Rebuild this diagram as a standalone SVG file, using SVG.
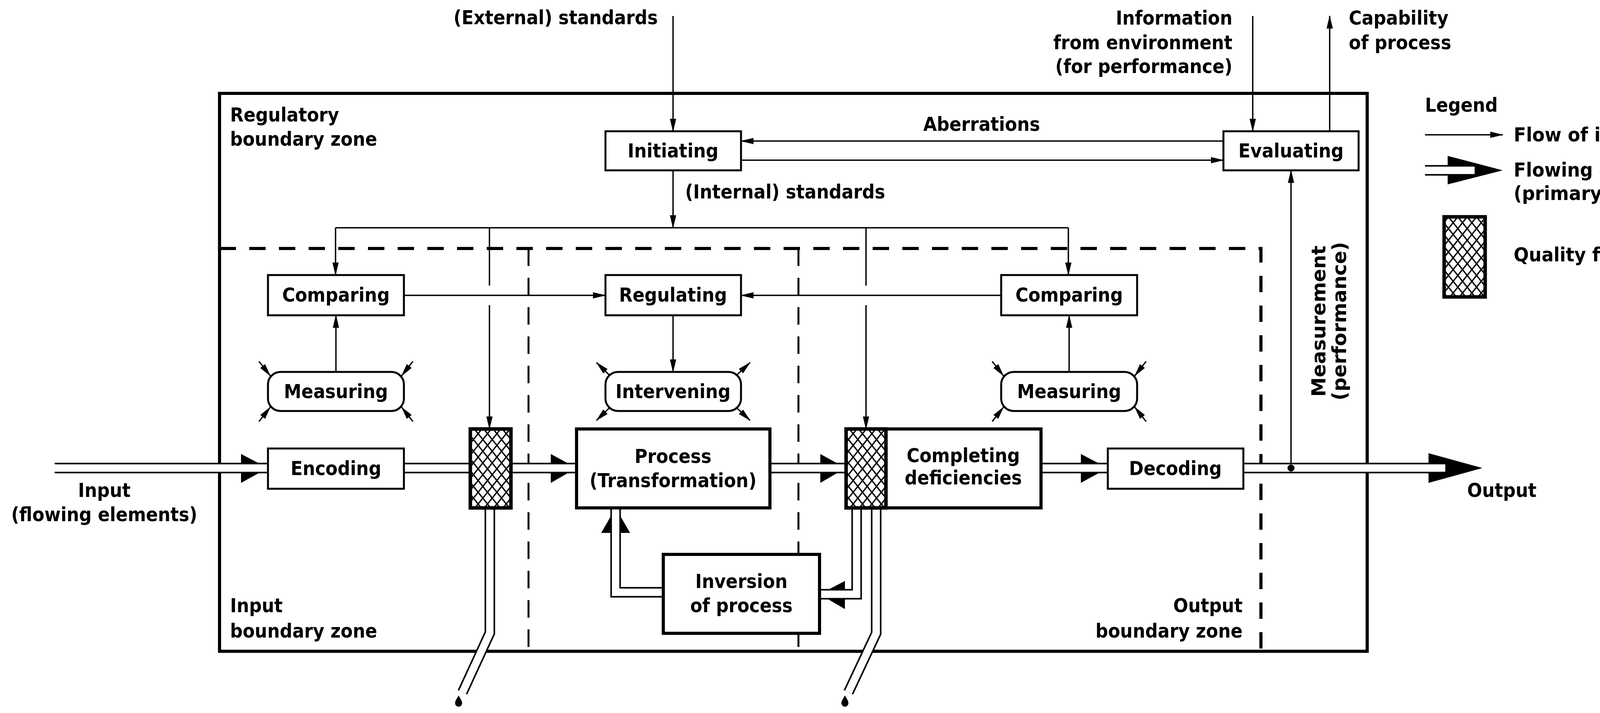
<svg xmlns="http://www.w3.org/2000/svg" width="4408" height="1825" viewBox="0 0 4408 1825">
<style>
text{font-family:"DejaVu Sans Condensed","DejaVu Sans",sans-serif;font-stretch:condensed;font-weight:bold;font-size:50px;fill:#000}
.c{text-anchor:middle}.r{text-anchor:end}
.wide{font-family:"DejaVu Sans",sans-serif;font-stretch:normal}
.box{fill:#fff;stroke:#000;stroke-width:5}
.tbox{fill:#fff;stroke:#000;stroke-width:8}
.info{fill:none;stroke:#000;stroke-width:3.5}
.ia{fill:none;stroke:#000;stroke-width:3.5;marker-end:url(#ah)}
.fo{fill:none;stroke:#000;stroke-width:27}
.fi{fill:none;stroke:#fff;stroke-width:19}
.filter{fill:url(#hatch);stroke:#000;stroke-width:9}
</style>
<defs>
<marker id="ah" markerWidth="34" markerHeight="16" refX="32" refY="8" orient="auto" markerUnits="userSpaceOnUse">
<path d="M0,0 L34,8 L0,16 Z" fill="#000"/>
</marker>
<pattern id="hatch" width="24" height="30" patternUnits="userSpaceOnUse">
<rect width="24" height="30" fill="#fff"/>
<path d="M0,0 L24,30 M24,0 L0,30 M-12,15 L0,30 M12,-15 L36,15 M36,15 L24,30 M12,-15 L-12,15" stroke="#000" stroke-width="3.5"/>
</pattern>
<path id="drop" d="M0,-16 C4,-8 9,-3 9,4 A9,9 0 0 1 -9,4 C-9,-3 -4,-8 0,-16Z" fill="#000"/>
</defs>
<rect width="4408" height="1825" fill="#fff"/>

<g id="frame">
<rect x="562" y="239" width="2938" height="1428" fill="none" stroke="#000" stroke-width="8"/>
<path d="M562,636 H3228 V1667" fill="none" stroke="#000" stroke-width="8" stroke-dasharray="42 34"/>
<path d="M1353,636 V1667 M2044,636 V1667" fill="none" stroke="#000" stroke-width="5" stroke-dasharray="45 30"/>
<text x="589" y="311">Regulatory</text>
<text x="589" y="373">boundary zone</text>
<text x="589" y="1567">Input</text>
<text x="589" y="1632">boundary zone</text>
<text x="3181" y="1567" class="r">Output</text>
<text x="3181" y="1632" class="r">boundary zone</text>
</g>

<g id="connectors">
<path class="ia" d="M1723,41 V336"/>
<path class="ia" d="M3207,41 V336"/>
<path class="ia" d="M3404,336 V41"/>
<path class="ia" d="M3132,361 H1897"/>
<path class="ia" d="M1897,410 H3132"/>
<path class="ia" d="M1723,436 V583"/>
<path class="info" d="M859,583 H2735"/>
<path class="ia" d="M859,583 V704"/>
<path class="info" d="M1253,583 V731"/>
<path class="ia" d="M1253,781 V1098"/>
<path class="info" d="M2217,583 V731"/>
<path class="ia" d="M2217,781 V1098"/>
<path class="ia" d="M2735,583 V704"/>
<path class="ia" d="M1034,756 H1550"/>
<path class="ia" d="M2563,756 H1897"/>
<path class="ia" d="M860,952 V807"/>
<path class="ia" d="M2737,952 V807"/>
<path class="ia" d="M1723,807 V952"/>
<path class="ia" d="M3305,1198 V436"/>
<path class="ia" d="M663,925 L692,962"/>
<path class="ia" d="M1057,925 L1028,962"/>
<path class="ia" d="M663,1079 L692,1042"/>
<path class="ia" d="M1057,1079 L1028,1042"/>
<path class="ia" d="M2540,925 L2569,962"/>
<path class="ia" d="M2934,925 L2905,962"/>
<path class="ia" d="M2540,1079 L2569,1042"/>
<path class="ia" d="M2934,1079 L2905,1042"/>
<path class="ia" d="M1560,960 L1527,928"/>
<path class="ia" d="M1886,960 L1920,928"/>
<path class="ia" d="M1560,1044 L1527,1076"/>
<path class="ia" d="M1886,1044 L1920,1076"/>

<g id="flows">
<path class="fo" d="M140,1198 H686 M1034,1198 H1204 M1308,1198 H1476 M1971,1198 H2165 M2665,1198 H2836 M3183,1198 H3720"/>
<path class="fo" d="M1254,1300 V1620 L1184,1772"/>
<path class="fo" d="M2243,1300 V1621 L2172,1772"/>
<path class="fo" d="M2193,1300 V1521 H2098"/>
<path class="fo" d="M1698,1516 H1576 V1300"/>
<path d="M617,1162 L686,1198 L617,1236Z M1410,1162 L1476,1198 L1410,1236Z M2100,1162 L2165,1198 L2100,1236Z M2767,1162 L2836,1198 L2767,1236Z M3657,1160 L3795,1198 L3657,1236Z M2163,1487 L2098,1521 L2163,1559Z M1539,1364 L1576,1300 L1613,1364Z"/>
<path class="fi" d="M140,1198 H686 M1034,1198 H1204 M1308,1198 H1476 M1971,1198 H2165 M2665,1198 H2836 M3183,1198 H3700"/>
<path class="fi" d="M1254,1300 V1620 L1184,1772"/>
<path class="fi" d="M2243,1300 V1621 L2172,1772"/>
<path class="fi" d="M2193,1300 V1521 H2098"/>
<path class="fi" d="M1698,1516 H1576 V1300"/>
<use href="#drop" x="1174" y="1796"/>
<use href="#drop" x="2163" y="1796"/>
<circle cx="3305" cy="1198" r="9"/>
</g>
</g>

<g id="initiating"><rect class="box" x="1550" y="336" width="347" height="100"/><text x="1723" y="403" class="c">Initiating</text></g>
<g id="evaluating"><rect class="box" x="3132" y="336" width="346" height="100"/><text x="3305" y="403" class="c">Evaluating</text></g>
<g id="comparing-left"><rect class="box" x="686" y="704" width="348" height="103"/><text x="860" y="772" class="c">Comparing</text></g>
<g id="regulating"><rect class="box" x="1550" y="704" width="347" height="103"/><text x="1723" y="772" class="c">Regulating</text></g>
<g id="comparing-right"><rect class="box" x="2563" y="704" width="348" height="103"/><text x="2737" y="772" class="c">Comparing</text></g>
<g id="measuring-left"><rect class="box" x="686" y="952" width="348" height="100" rx="32"/><text x="860" y="1019" class="c">Measuring</text></g>
<g id="intervening"><rect class="box" x="1550" y="952" width="347" height="100" rx="32"/><text x="1723" y="1019" class="c">Intervening</text></g>
<g id="measuring-right"><rect class="box" x="2563" y="952" width="348" height="100" rx="32"/><text x="2737" y="1019" class="c">Measuring</text></g>
<g id="encoding"><rect class="box" x="686" y="1148" width="348" height="103" stroke-width="7"/><text x="860" y="1216" class="c">Encoding</text></g>
<g id="filter-1"><rect class="filter" x="1204" y="1098" width="104" height="202"/></g>
<g id="process"><rect class="tbox" x="1476" y="1098" width="495" height="202"/><text x="1723" y="1185" class="c">Process</text><text x="1723" y="1247" class="c">(Transformation)</text></g>
<g id="completing"><rect class="tbox" x="2166" y="1098" width="499" height="202"/><rect class="filter" x="2166" y="1098" width="102" height="202"/><text x="2466" y="1183" class="c">Completing</text><text x="2466" y="1240" class="c">deficiencies</text></g>
<g id="decoding"><rect class="box" x="2836" y="1148" width="347" height="103" stroke-width="7"/><text x="3009" y="1216" class="c">Decoding</text></g>
<g id="inversion"><rect class="tbox" x="1698" y="1419" width="400" height="202"/><text x="1898" y="1505" class="c">Inversion</text><text x="1898" y="1567" class="c">of process</text></g>

<g id="labels">
<text x="1684" y="62" class="r">(External) standards</text>
<text x="1754" y="508">(Internal) standards</text>
<text x="2513" y="335" class="c">Aberrations</text>
<text x="3155" y="63" class="r">Information</text>
<text x="3155" y="126" class="r">from environment</text>
<text x="3155" y="187" class="r">(for performance)</text>
<text x="3453" y="63">Capability</text>
<text x="3453" y="126">of process</text>
<text x="267" y="1272" class="c">Input</text>
<text x="267" y="1334" class="c">(flowing elements)</text>
<text x="3756" y="1272">Output</text>
<text class="c wide" transform="translate(3393,822) rotate(-90)">Measurement</text>
<text class="c wide" transform="translate(3446,822) rotate(-90)">(performance)</text>
</g>

<g id="legend">
<text x="3648" y="286">Legend</text>
<path class="ia" d="M3648,345 H3847"/>
<text x="3875" y="362" textLength="513" lengthAdjust="spacingAndGlyphs">Flow of information</text>
<path class="fo" d="M3648,436 H3720"/>
<path d="M3706,399 L3847,436 L3706,472Z"/>
<path class="fi" d="M3648,436 H3775"/>
<text x="3875" y="452" textLength="458" lengthAdjust="spacingAndGlyphs">Flowing elements</text>
<text x="3875" y="512" textLength="465" lengthAdjust="spacingAndGlyphs">(primary process)</text>
<rect class="filter" x="3697" y="555" width="105" height="205"/>
<text x="3875" y="669" textLength="326" lengthAdjust="spacingAndGlyphs">Quality filter</text>
</g>
</svg>
